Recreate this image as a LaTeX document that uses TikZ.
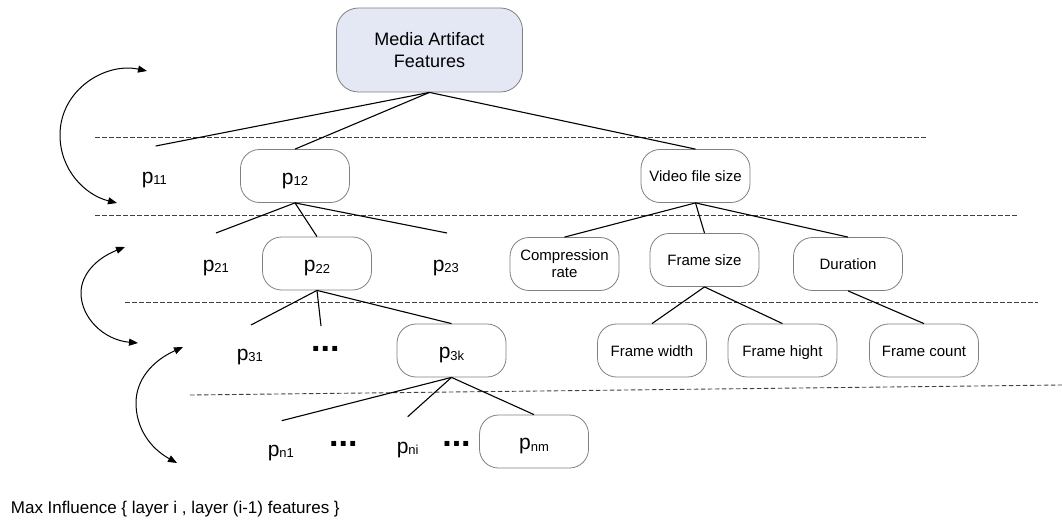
\documentclass[tikz,border=0pt]{standalone}
\usepackage{fontspec}
\setmainfont{Liberation Sans}
\usetikzlibrary{arrows.meta}

\definecolor{boxgray}{RGB}{128,128,128}
\definecolor{rootfill}{RGB}{228,232,244}
\definecolor{sepgray}{RGB}{64,64,64}

% feature label p with a subscript index
\newcommand\psub[1]{{\fontsize{21}{21}\selectfont p}\raisebox{-1.5pt}{\fontsize{13}{13}\selectfont #1}}

\begin{document}
\begin{tikzpicture}[x=1pt,y=1pt,
  rootbox/.style={draw=boxgray, line width=0.8pt, fill=rootfill, rounded corners=22pt,
    minimum width=186pt, minimum height=84pt, inner sep=0pt, align=center,
    font=\fontsize{18}{21.5}\selectfont},
  featbox/.style={draw=boxgray, line width=0.8pt, fill=white, rounded corners=19pt,
    minimum width=109pt, minimum height=53pt, inner sep=0pt, align=center,
    font=\fontsize{15}{17}\selectfont},
  onebox/.style={featbox, text height=11pt, text depth=0pt},
  pbox/.style={featbox, text height=16pt, text depth=0pt},
  plab/.style={inner sep=0pt, anchor=base west},
  dotsep/.style={inner sep=0pt, anchor=base, font=\fontsize{34}{34}\selectfont\bfseries},
  conn/.style={line width=1.1pt, black},
  layersep/.style={sepgray, line width=0.9pt, dash pattern=on 4.5pt off 2.5pt},
  swing/.style={line width=1pt, {Triangle[length=9pt,width=7pt]}-{Triangle[length=9pt,width=7pt]}}
]
\useasboundingbox (0,0) rectangle (1062,-519);

% layer separators
\draw[layersep] (95,-137) -- (928,-137);
\draw[layersep] (95,-215.5) -- (1018,-215.5);
\draw[layersep] (125,-302.5) -- (1038,-302.5);
\draw[layersep] (190,-395) -- (1062,-385);

% root
\node[rootbox] (root) at (429.5,-50) {Media Artifact\\Features};

% layer 1
\node[plab] (p11) at (141.6,-183) {\psub{11}};
\node[pbox] (p12) at (295,-176) {\psub{12}};
\node[onebox] (vfs) at (695.5,-176) {Video file size};

% layer 2
\node[plab] (p21) at (202.6,-271) {\psub{21}};
\node[pbox] (p22) at (317,-263.5) {\psub{22}};
\node[plab] (p23) at (432.6,-271) {\psub{23}};
\node[featbox] (comp) at (564.5,-264) {Compression\\rate};
\node[onebox] (fsize) at (704.5,-260) {Frame size};
\node[onebox] (dur) at (848,-264) {Duration};

% layer 3
\node[plab] (p31) at (236.6,-360) {\psub{31}};
\node[dotsep] (d3) at (325.3,-351.7) {...};
\node[pbox] (p3k) at (451.5,-350.5) {\psub{3k}};
\node[onebox] (fw) at (652,-350.5) {Frame width};
\node[onebox] (fh) at (782.5,-350.5) {Frame hight};
\node[onebox] (fc) at (924,-350.5) {Frame count};

% layer n
\node[plab] (pn1) at (267.6,-456) {\psub{n1}};
\node[dotsep] (dn1) at (343.3,-446.7) {...};
\node[plab] (pni) at (396.6,-453) {\psub{ni}};
\node[dotsep] (dn2) at (456.5,-446.7) {...};
\node[pbox] (pnm) at (534,-441.5) {\psub{nm}};

% free ends of the links to unboxed labels
\coordinate (e11) at (155.7,-146);
\coordinate (e21) at (216,-233);
\coordinate (e23) at (447,-233);
\coordinate (e31) at (251,-325);
\coordinate (ed3) at (321,-326);
\coordinate (en1) at (281.7,-420.7);
\coordinate (eni) at (407.7,-416.7);

% tree links
\draw[conn] (root.south) -- (e11);
\draw[conn] (root.south) -- (p12.north);
\draw[conn] (root.south) -- (vfs.north);
\draw[conn] (p12.south) -- (e21);
\draw[conn] (p12.south) -- (p22.north);
\draw[conn] (p12.south) -- (e23);
\draw[conn] (vfs.south) -- (comp.north);
\draw[conn] (vfs.south) -- (fsize.north);
\draw[conn] (vfs.south) -- (dur.north);
\draw[conn] (p22.south) -- (e31);
\draw[conn] (p22.south) -- (ed3);
\draw[conn] (p22.south) -- (p3k.north);
\draw[conn] (fsize.south) -- (fw.north);
\draw[conn] (fsize.south) -- (fh.north);
\draw[conn] (dur.south) -- (fc.north);
\draw[conn] (p3k.south) -- (en1);
\draw[conn] (p3k.south) -- (eni);
\draw[conn] (p3k.south) -- (pnm.north);

% influence arcs between neighbouring layers
\coordinate (s1t) at (147,-71);
\coordinate (s1b) at (117,-203);
\coordinate (s2t) at (125,-247);
\coordinate (s2b) at (138,-343);
\coordinate (s3t) at (183,-347);
\coordinate (s3b) at (177,-463);
\draw[swing] (s1t) .. controls (105,-62) and (60,-90) .. (60,-135)
  .. controls (60,-170) and (85,-195) .. (s1b);
\draw[swing] (s2t) .. controls (97,-258) and (81,-274) .. (81,-293)
  .. controls (81,-318) and (104,-340) .. (s2b);
\draw[swing] (s3t) .. controls (152,-361) and (136,-380) .. (136,-403)
  .. controls (136,-428) and (150,-448) .. (s3b);

% caption
\node[inner sep=0pt, anchor=base west, font=\fontsize{17}{17}\selectfont] (caption)
  at (10.7,-513) {Max Influence \{ layer i , layer (i-1) features \}};
\end{tikzpicture}
\end{document}
